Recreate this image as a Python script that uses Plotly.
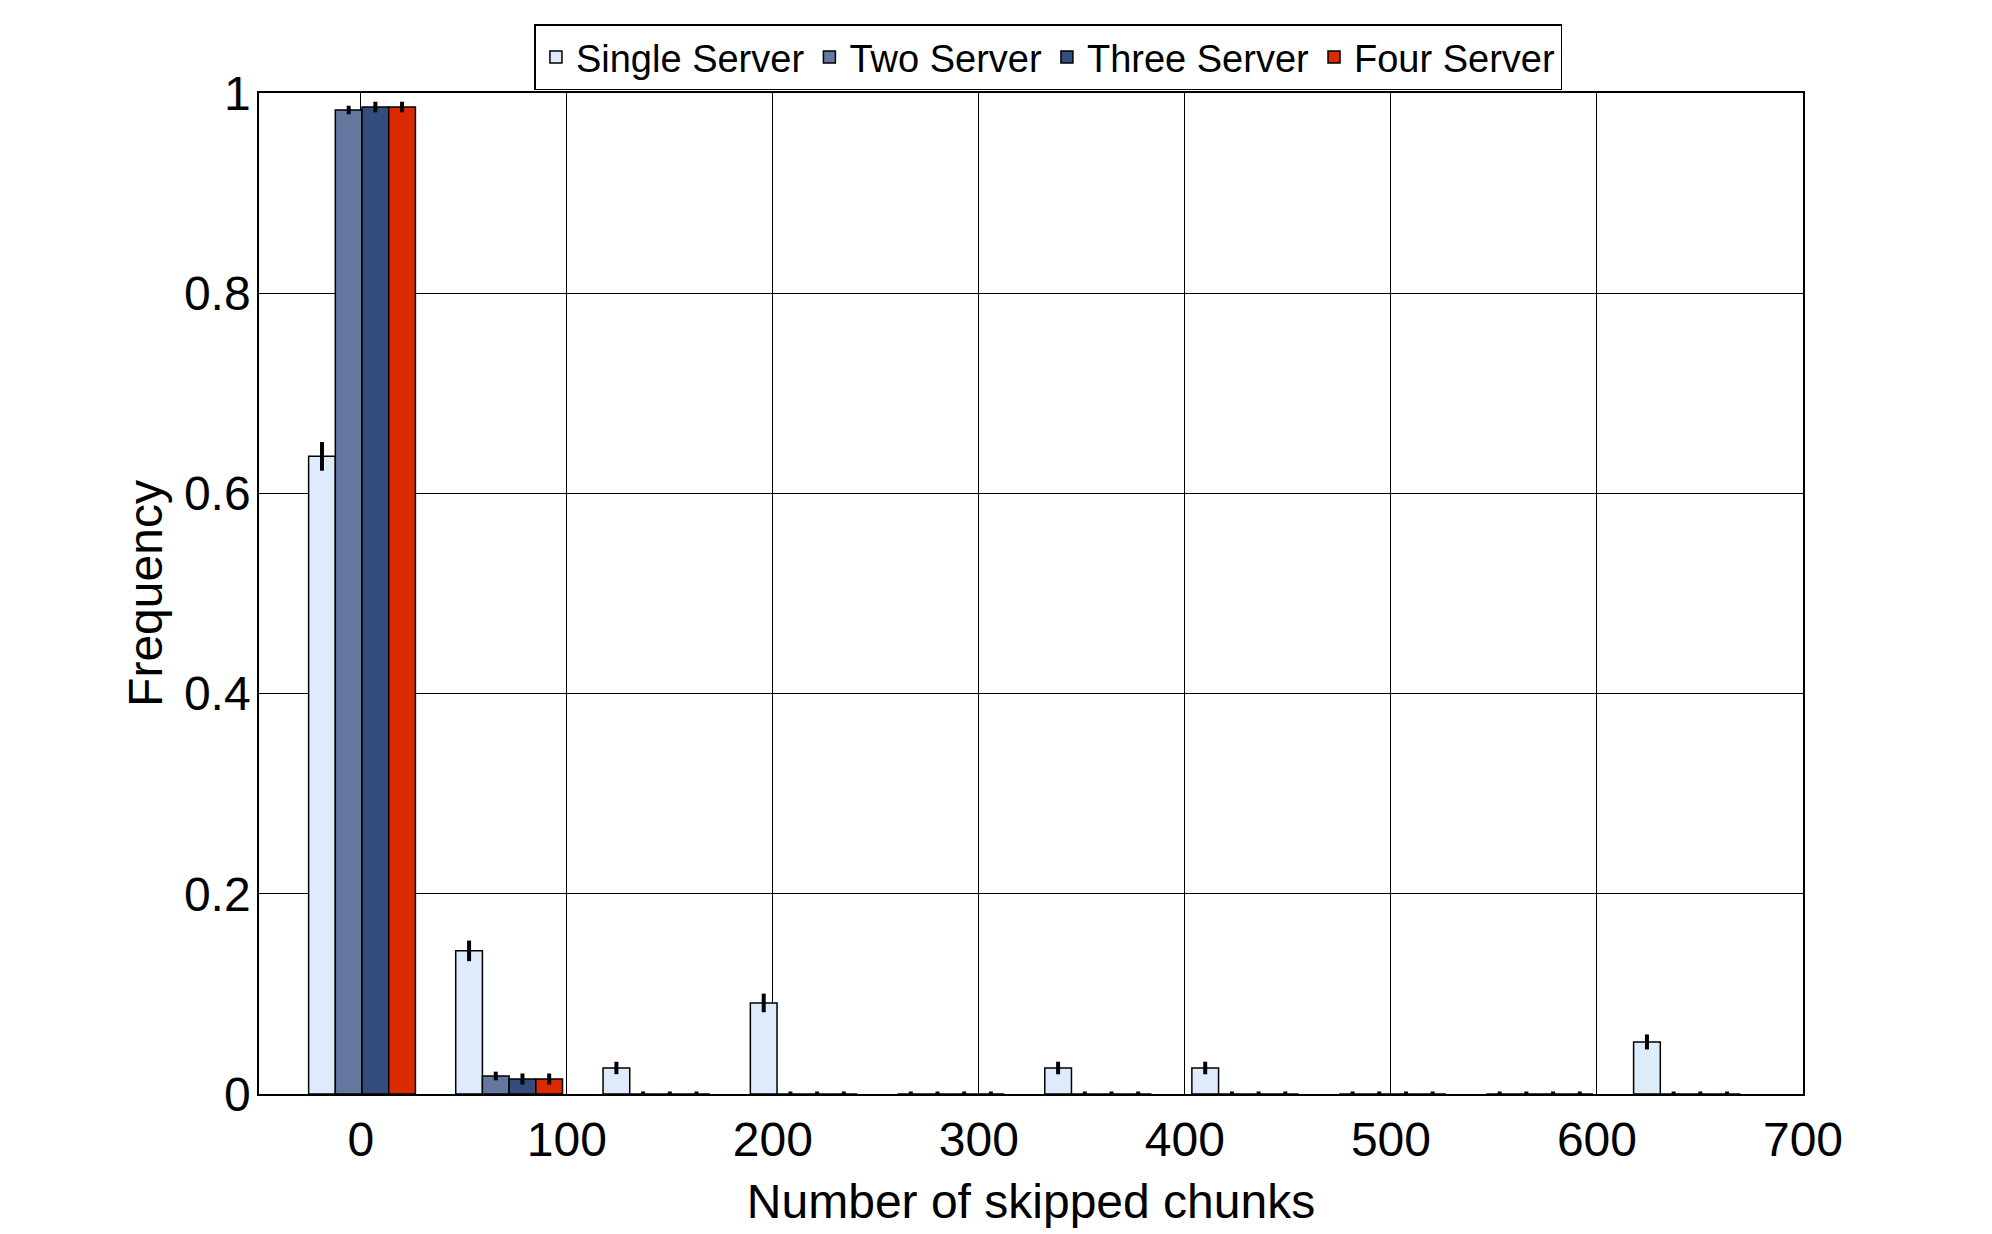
import plotly.graph_objects as go

# Bin centres (number of skipped chunks)
bins = [0.6, 72.0, 143.5, 215.0, 286.4, 357.9, 429.3, 500.8, 572.2, 643.7]

series_names = ["Single Server", "Two Server", "Three Server", "Four Server"]

single = [0.637, 0.143, 0.026, 0.091, 0.0, 0.026, 0.026, 0.0, 0.0, 0.052]
two = [0.983, 0.018, 0.0, 0.0, 0.0, 0.0, 0.0, 0.0, 0.0, 0.0]
three = [0.986, 0.015, 0.0, 0.0, 0.0, 0.0, 0.0, 0.0, 0.0, 0.0]
four = [0.986, 0.015, 0.0, 0.0, 0.0, 0.0, 0.0, 0.0, 0.0, 0.0]

single_err = [0.0143, 0.0103, 0.0062, 0.0093, 0.0025, 0.0063, 0.0063, 0.0025, 0.0025, 0.0075]
two_err = [0.0043, 0.0043, 0.0025, 0.0025, 0.0025, 0.0025, 0.0025, 0.0025, 0.0025, 0.0025]
three_err = [0.0053, 0.0055, 0.0025, 0.0025, 0.0025, 0.0025, 0.0025, 0.0025, 0.0025, 0.0025]
four_err = [0.0053, 0.0055, 0.0025, 0.0025, 0.0025, 0.0025, 0.0025, 0.0025, 0.0025, 0.0025]

colors = ["#DDEBFA", "#64789F", "#344D7C", "#DB2A00"]

x_ticks = [0, 100, 200, 300, 400, 500, 600, 700]
y_ticks = [0, 0.2, 0.4, 0.6, 0.8, 1]

FONT = "Liberation Sans"

fig = go.Figure()
for name, vals, errs, col in zip(series_names, [single, two, three, four],
                                 [single_err, two_err, three_err, four_err], colors):
    fig.add_trace(go.Bar(
        x=bins, y=vals, name=name,
        marker=dict(color=col, line=dict(color="black", width=1.5)),
        error_y=dict(type="data", array=errs, visible=True, color="black",
                     thickness=4, width=0),
    ))

fig.update_layout(
    width=1992, height=1234,
    barmode="group", bargap=0.274, bargroupgap=0,
    plot_bgcolor="white", paper_bgcolor="white",
    margin=dict(l=251, r=197, t=85, b=148, autoexpand=False),
    font=dict(family=FONT, size=48, color="black"),
    legend=dict(
        orientation="h", x=0.1784, y=1.0686, xanchor="left", yanchor="top",
        font=dict(family=FONT, size=38, color="black"),
        bordercolor="black", borderwidth=1.5, bgcolor="white",
        itemwidth=30, tracegroupgap=0,
    ),
    xaxis=dict(
        range=[-49.4, 700.0], tickmode="array", tickvals=x_ticks,
        showgrid=True, gridcolor="black", gridwidth=1,
        zeroline=True, zerolinecolor="black", zerolinewidth=1,
        showline=True, linecolor="black", linewidth=1.5, mirror=True,
        ticks="", ticklabelstandoff=3,
        title=dict(text="Number of skipped chunks", font=dict(size=48), standoff=19),
    ),
    yaxis=dict(
        range=[0, 1], tickmode="array", tickvals=y_ticks,
        showgrid=True, gridcolor="black", gridwidth=1,
        zeroline=False,
        showline=True, linecolor="black", linewidth=1.5, mirror=True,
        ticks="", ticklabelstandoff=-3,
        title=dict(text="Frequency", font=dict(size=48), standoff=6),
    ),
)

fig.write_html("out.html")
